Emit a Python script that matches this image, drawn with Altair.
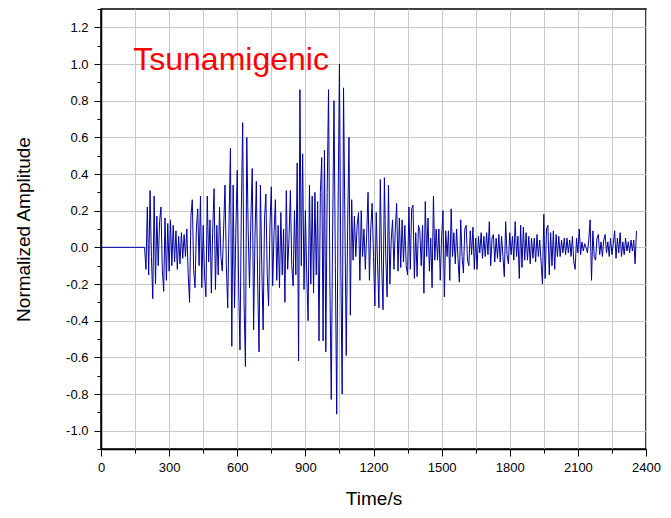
import altair as alt
import pandas as pd

# quiet pre-event segment
quiet_time = [0]
quiet_amp = [0.0]

# sampled record after onset (start time and sample step in seconds)
t_first = 192
dt = 6
amp = [
    0.0, -0.12, 0.22, -0.15, 0.31, -0.05, -0.28, 0.28, -0.20, 0.17,
    -0.10, 0.14, 0.22, -0.12, -0.24, 0.16, -0.18, 0.13, -0.13, 0.15,
    -0.10, 0.12, -0.08, 0.09, -0.12, 0.06, -0.09, 0.08, -0.06, 0.07,
    -0.05, 0.10, -0.15, -0.30, 0.17, 0.26, -0.12, -0.22, 0.10, 0.21,
    -0.10, 0.28, -0.22, 0.12, -0.15, -0.27, 0.28, -0.08, 0.15, -0.25,
    0.10, 0.32, -0.23, 0.12, -0.15, 0.22, -0.05, -0.13, 0.10, 0.34,
    -0.10, -0.33, 0.15, 0.54, -0.54, 0.34, -0.33, 0.10, 0.42, -0.20,
    -0.56, 0.20, 0.68, -0.30, -0.65, 0.60, 0.10, -0.22, 0.15, 0.43,
    -0.45, 0.05, 0.36, -0.20, -0.57, 0.34, -0.10, -0.45, 0.15, 0.29,
    -0.15, -0.32, 0.12, 0.33, -0.21, 0.08, 0.26, -0.18, 0.12, -0.22,
    0.19, -0.15, 0.10, -0.30, 0.31, -0.12, 0.05, 0.31, -0.10, -0.21,
    0.20, -0.15, 0.46, -0.62, 0.86, -0.10, 0.51, -0.23, 0.20, -0.15,
    -0.40, 0.34, -0.20, 0.28, -0.25, 0.30, -0.15, 0.25, -0.51, 0.30,
    0.49, -0.51, 0.53, -0.57, 0.30, 0.86, -0.20, -0.83, 0.10, 0.80,
    -0.10, -0.91, 0.20, 1.00, -0.10, -0.80, 0.87, 0.15, -0.59, 0.10,
    0.60, -0.37, 0.26, -0.07, 0.17, -0.05, 0.12, 0.19, -0.18, 0.20,
    -0.05, 0.10, -0.12, 0.07, 0.30, -0.18, 0.10, 0.24, -0.05, -0.32,
    0.19, -0.10, -0.33, 0.37, -0.10, -0.34, 0.38, -0.05, -0.27, 0.34,
    -0.20, 0.04, 0.15, -0.12, 0.10, 0.24, -0.13, 0.16, -0.11, 0.15,
    -0.08, 0.12, -0.10, -0.15, 0.22, -0.12, 0.21, 0.23, -0.17, 0.08,
    -0.16, 0.12, 0.09, -0.10, 0.12, -0.25, 0.25, -0.05, 0.16, -0.13,
    0.05, -0.22, 0.28, -0.07, 0.10, -0.07, 0.10, -0.18, 0.06, 0.20,
    -0.27, 0.09, -0.05, 0.09, -0.18, 0.21, -0.05, 0.08, -0.09, 0.10,
    -0.06, -0.19, 0.15, -0.05, -0.14, 0.10, 0.12, -0.07, -0.10, 0.09,
    -0.04, 0.11, -0.12, 0.05, -0.12, 0.06, -0.03, 0.08, -0.06, 0.06,
    -0.05, 0.08, -0.04, 0.14, -0.10, 0.05, 0.07, -0.08, 0.05, -0.06,
    0.07, -0.08, 0.06, -0.05, -0.16, 0.14, -0.04, -0.09, 0.08, -0.04,
    0.06, -0.07, 0.14, -0.05, 0.06, -0.17, 0.12, -0.11, 0.11, -0.07,
    0.08, -0.07, 0.06, -0.09, 0.05, -0.06, 0.05, -0.08, 0.07, -0.05,
    0.04, -0.08, -0.20, 0.18, -0.17, 0.10, 0.12, -0.15, 0.08, -0.10,
    0.09, -0.12, 0.07, -0.05, 0.06, -0.05, 0.04, -0.03, 0.05, -0.04,
    0.05, -0.03, 0.04, -0.05, 0.06, -0.08, -0.12, 0.05, -0.03, 0.10,
    -0.04, 0.03, -0.02, 0.02, 0.00, -0.03, 0.04, 0.15, -0.18, 0.09,
    -0.05, -0.07, 0.05, 0.07, -0.04, 0.03, -0.05, 0.04, 0.07, -0.03,
    0.03, -0.05, 0.05, -0.04, 0.02, 0.09, -0.06, 0.05, -0.03, 0.08,
    -0.05, 0.03, -0.04, 0.05, -0.02, 0.03, -0.03, 0.04, -0.02, 0.04,
    -0.09, 0.09,
]

x_major = list(range(0, 2401, 300))
x_minor = list(range(0, 2401, 150))
y_major = [-1.0, -0.8, -0.6, -0.4, -0.2, 0.0, 0.2, 0.4, 0.6, 0.8, 1.0, 1.2]
y_minor = [-1.1, -1.0, -0.9, -0.8, -0.7, -0.6, -0.5, -0.4, -0.3, -0.2, -0.1, 0.0,
           0.1, 0.2, 0.3, 0.4, 0.5, 0.6, 0.7, 0.8, 0.9, 1.0, 1.1, 1.2, 1.3]
label_text = "Tsunamigenic"

time = quiet_time + [t_first + dt * i for i in range(len(amp))]
values = quiet_amp + amp
df = pd.DataFrame({"time": time, "amp": values})

FONT = "Liberation Sans"

xscale = alt.Scale(domain=[0, 2400], nice=False, zero=False)
yscale = alt.Scale(domain=[-1.1, 1.3], nice=False, zero=False)

base = alt.Chart(df)

# minor ticks + vertical grid (invisible line carries the axes)
minor = base.mark_line(strokeOpacity=0).encode(
    x=alt.X(
        "time:Q",
        scale=xscale,
        axis=alt.Axis(
            orient="bottom",
            values=x_minor,
            labels=False,
            tickSize=4,
            domain=False,
            grid=True,
            gridColor="#c8c8c8",
            gridWidth=1,
            title=None,
        ),
    ),
    y=alt.Y(
        "amp:Q",
        scale=yscale,
        axis=alt.Axis(
            orient="left",
            values=y_minor,
            labels=False,
            tickSize=4,
            domain=False,
            grid=False,
            title=None,
        ),
    ),
)

major = base.mark_line(color="#0000A0", strokeWidth=1, clip=True).encode(
    x=alt.X(
        "time:Q",
        scale=xscale,
        axis=alt.Axis(
            orient="bottom",
            values=x_major,
            format="d",
            tickSize=7,
            grid=False,
            title="Time/s",
            titlePadding=15,
            labelPadding=5,
            labelFlush=False,
        ),
    ),
    y=alt.Y(
        "amp:Q",
        scale=yscale,
        axis=alt.Axis(
            orient="left",
            values=y_major,
            labelExpr="datum.value < -0.001 ? '-' + format(-datum.value, '.1f') : format(abs(datum.value), '.1f')",
            tickSize=7,
            grid=True,
            gridColor="#c8c8c8",
            gridWidth=1,
            title="Normalized Amplitude",
            titlePadding=32,
            labelPadding=6,
            labelFlush=False,
        ),
    ),
)

text = alt.Chart(pd.DataFrame({"label": [label_text]})).mark_text(
    color="#FF0000", font=FONT, fontSize=32, align="left", baseline="alphabetic"
).encode(
    x=alt.XDatum(142, scale=xscale, axis=None),
    y=alt.YDatum(0.965, scale=yscale, axis=None),
    text="label:N",
)

chart = (
    alt.layer(minor, major, text)
    .resolve_axis(x="independent", y="independent")
    .properties(
        width=545,
        height=440,
        padding={"left": 101, "top": 9, "right": 25, "bottom": 69},
        autosize=alt.AutoSizeParams(type="none"),
        background="white",
    )
    .configure_view(stroke="black", strokeWidth=1.5)
    .configure_axis(
        labelFont=FONT,
        titleFont=FONT,
        labelFontSize=13,
        titleFontSize=19,
        titleFontWeight="normal",
        labelColor="black",
        titleColor="black",
        domainColor="black",
        domainWidth=1.5,
        tickColor="black",
        tickWidth=1,
    )
)

chart.save("out.html", embed_options={"renderer": "svg", "actions": False})
